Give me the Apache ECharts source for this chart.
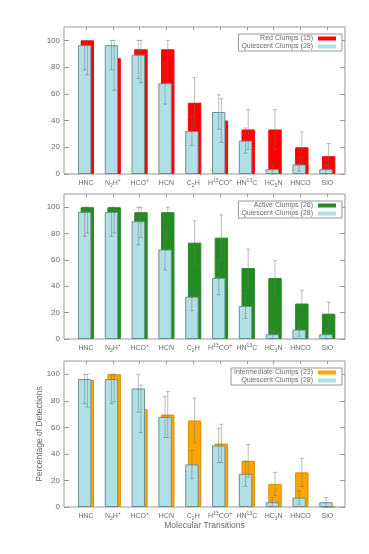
<!DOCTYPE html>
<html><head><meta charset="utf-8">
<script src="https://cdn.jsdelivr.net/npm/echarts@6/dist/echarts.min.js"></script>
<style>html,body{margin:0;padding:0;background:#fff}#c{width:369px;height:554px}</style>
</head><body><div id="c"></div>
<script>
// ---- data ----
const categories = ['HNC','N2H+','HCO+','HCN','C2H','H13CO+','HN13C','HC3N','HNCO','SiO'];
const categoryLabels = ['{n|HNC}', '{n|N}{sub|2}{n|H}{sup|+}', '{n|HCO}{sup|+}', '{n|HCN}', '{n|C}{sub|2}{n|H}',
  '{n|H}{sup|13}{n|CO}{sup|+}', '{n|HN}{sup|13}{n|C}', '{n|HC}{sub|3}{n|N}', '{n|HNCO}', '{n|SiO}'];
const yTicks = [0, 20, 40, 60, 80, 100];

const quiescentName = 'Quiescent Clumps (28)';
const quiescent     = [96.4, 96.4, 89.3, 67.9, 32.1, 46.4, 25.0, 3.6, 7.1, 3.6];
const quiescentLow  = [77.9, 77.9, 71.4, 52.3, 21.4, 33.5, 15.6, 0.0, 2.1, 0.0];
const quiescentHigh = [100, 100, 100, 83.4, 42.9, 59.3, 34.5, 7.1, 12.2, 7.1];

const redName = 'Red Clumps (15)';
const red     = [100, 86.7, 93.3, 93.3, 53.3, 40.0, 33.3, 33.3, 20.0, 13.3];
const redLow  = [74.2, 62.6, 68.4, 68.4, 34.5, 23.7, 18.4, 18.4, 8.5, 3.9];
const redHigh = [100, 100, 100, 100, 72.2, 56.3, 48.2, 48.2, 31.5, 22.8];

const activeName = 'Active Clumps (26)';
const active     = [100, 100, 96.2, 96.2, 73.1, 76.9, 53.8, 46.2, 26.9, 19.2];
const activeLow  = [80.4, 80.4, 76.9, 76.9, 56.3, 59.7, 39.5, 32.8, 16.8, 10.6];
const activeHigh = [100, 100, 100, 100, 89.8, 94.1, 68.2, 59.5, 37.1, 27.8];

const interName = 'Intermediate Clumps (23)';
const inter     = [95.7, 100, 73.9, 69.6, 65.2, 47.8, 34.8, 17.4, 26.1, 0.0];
const interLow  = [75.3, 79.2, 56.0, 52.2, 48.4, 33.4, 22.5, 8.7, 15.4, 0.0];
const interHigh = [100, 100, 91.8, 87.0, 82.1, 62.3, 47.1, 26.1, 36.7, 0.0];

// ---- styling / layout ----
const FONT = 'Liberation Sans, Arial, sans-serif';
const TXT = '#6a6a6a';
const FRAME = '#999';
const QFILL = '#b0e0e6';
const QEDGE = '#6f8f95';
const ERR = 'rgba(110,110,110,0.45)';
const XMIN = -0.82, XMAX = 9.66;
const BARW = 13.4;
const SHIFT = BARW * 0.2 / 2;

const panels = [
  {name: redName, values: red, low: redLow, high: redHigh, color: '#ff0000', edge: '#ff0000', top: 27, height: 147},
  {name: activeName, values: active, low: activeLow, high: activeHigh, color: '#228b22', edge: '#228b22', top: 194, height: 145},
  {name: interName, values: inter, low: interLow, high: interHigh, color: '#ffa500', edge: '#d98c00', top: 361, height: 146}
];

const idx = categories.map((c, i) => i);
const rich = {
  n: {fontSize: 7, lineHeight: 10, color: TXT, fontFamily: FONT},
  sub: {fontSize: 5, lineHeight: 5, verticalAlign: 'bottom', color: TXT, fontFamily: FONT},
  sup: {fontSize: 5, lineHeight: 5, verticalAlign: 'top', color: TXT, fontFamily: FONT}
};

function errRender(offsetPx) {
  return function (params, api) {
    const x = api.value(0), lo = api.value(1), hi = api.value(2);
    if (!(hi > lo)) return null;
    const a = api.coord([x, lo]), b = api.coord([x, hi]);
    const cx = a[0] + offsetPx;
    const style = {stroke: ERR, lineWidth: 1};
    return {type: 'group', children: [
      {type: 'line', shape: {x1: cx, y1: a[1], x2: cx, y2: b[1]}, style: style},
      {type: 'line', shape: {x1: cx - 2, y1: a[1], x2: cx + 2, y2: a[1]}, style: style},
      {type: 'line', shape: {x1: cx - 2, y1: b[1], x2: cx + 2, y2: b[1]}, style: style}
    ]};
  };
}

const grid = [], xAxis = [], yAxis = [], series = [], legend = [];
panels.forEach((p, k) => {
  grid.push({left: 64, right: 24, top: p.top, height: p.height, show: true, borderColor: FRAME, borderWidth: 1, backgroundColor: 'transparent'});
  const last = k === panels.length - 1;
  xAxis.push({
    type: 'value', gridIndex: k, position: 'bottom', min: XMIN, max: XMAX,
    axisLine: {show: false, onZero: false}, splitLine: {show: false},
    axisTick: {show: true, inside: true, length: 3, customValues: idx, lineStyle: {color: FRAME}},
    axisLabel: {customValues: idx, margin: 4, formatter: v => categoryLabels[Math.round(v)], rich: rich},
    name: last ? 'Molecular Transitions' : '', nameLocation: 'middle', nameGap: 14, nameMoveOverlap: false,
    nameTextStyle: {fontSize: 8.5, color: TXT, fontFamily: FONT}
  });
  xAxis.push({
    type: 'value', gridIndex: k, position: 'top', min: XMIN, max: XMAX,
    axisLine: {show: false, onZero: false}, splitLine: {show: false},
    axisTick: {show: true, inside: true, length: 3, customValues: idx, lineStyle: {color: FRAME}},
    axisLabel: {show: false}
  });
  yAxis.push({
    type: 'value', gridIndex: k, position: 'left', min: 0, max: 110,
    axisLine: {show: false, onZero: false}, splitLine: {show: false},
    axisTick: {show: true, inside: true, length: 5, customValues: yTicks, lineStyle: {color: FRAME}},
    axisLabel: {customValues: yTicks, margin: 4, fontSize: 8, color: TXT, fontFamily: FONT},
    name: last ? 'Percentage of Detections' : '', nameLocation: 'middle', nameGap: 20, nameMoveOverlap: false,
    nameTextStyle: {fontSize: 8.5, color: TXT, fontFamily: FONT}
  });
  yAxis.push({
    type: 'value', gridIndex: k, position: 'right', min: 0, max: 110,
    axisLine: {show: false, onZero: false}, splitLine: {show: false},
    axisTick: {show: true, inside: true, length: 5, customValues: yTicks, lineStyle: {color: FRAME}},
    axisLabel: {show: false}
  });
  const xi = 2 * k, yi = 2 * k;
  series.push({
    type: 'bar', name: quiescentName, xAxisIndex: xi, yAxisIndex: yi, z: 3,
    barWidth: BARW, barGap: '-80%',
    itemStyle: {color: QFILL, borderColor: QEDGE, borderWidth: 1},
    data: quiescent.map((v, i) => [i, v])
  });
  series.push({
    type: 'bar', name: p.name, xAxisIndex: xi, yAxisIndex: yi, z: 2,
    barWidth: BARW, barGap: '-80%',
    itemStyle: {color: p.color, borderColor: p.edge, borderWidth: 1},
    data: p.values.map((v, i) => [i, v])
  });
  series.push({
    type: 'custom', xAxisIndex: xi, yAxisIndex: yi, z: 5, silent: true,
    renderItem: errRender(-SHIFT),
    data: quiescent.map((v, i) => [i, quiescentLow[i], quiescentHigh[i]])
  });
  series.push({
    type: 'custom', xAxisIndex: xi, yAxisIndex: yi, z: 5, silent: true,
    renderItem: errRender(SHIFT),
    data: p.values.map((v, i) => [i, p.low[i], p.high[i]])
  });
  legend.push({
    data: [p.name, quiescentName], orient: 'vertical', align: 'right',
    right: 27, top: p.top + 7, itemWidth: 18, itemHeight: 4, itemGap: 1, icon: 'rect',
    borderColor: FRAME, borderWidth: 1, borderRadius: 0, padding: [1, 6, 1, 3], backgroundColor: '#fff',
    textStyle: {fontSize: 7, color: TXT, fontFamily: FONT},
    itemStyle: {borderWidth: 0}, selectedMode: false
  });
});

const chart = echarts.init(document.getElementById('c'), null, {renderer: 'canvas'});
chart.setOption({animation: false, backgroundColor: '#fff', grid, xAxis, yAxis, series, legend});
</script></body></html>
